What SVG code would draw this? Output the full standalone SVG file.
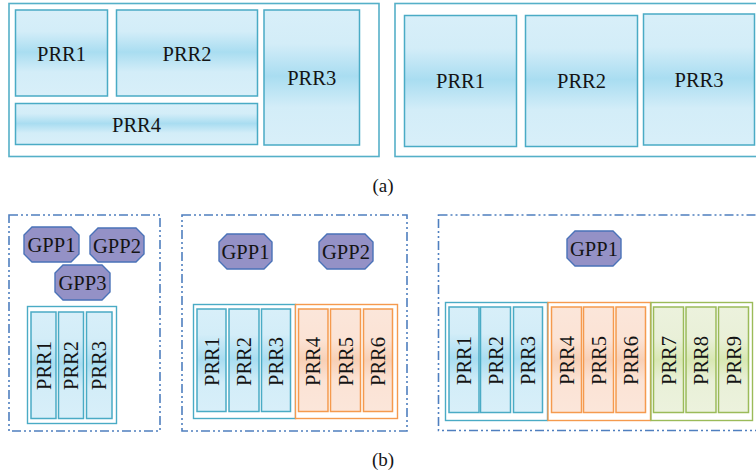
<svg xmlns="http://www.w3.org/2000/svg" width="756" height="475" viewBox="0 0 756 475">
<style>
text{font-family:"Liberation Serif","Times New Roman",serif;fill:#141414;font-size:20.5px;text-anchor:middle}
.cap{font-size:19px}
.outer{fill:#fff;stroke:#55b0c8;stroke-width:1.6}
.b{fill:url(#gb);stroke:#4aabc5;stroke-width:1.5}
.o{fill:url(#go);stroke:#f59a4e;stroke-width:1.5}
.g{fill:url(#gg);stroke:#9bbb59;stroke-width:1.5}
.bg{fill:#fff;stroke:#4aabc5;stroke-width:1.4}
.og{fill:#fff;stroke:#f59a4e;stroke-width:1.4}
.gg{fill:#fff;stroke:#9bbb59;stroke-width:1.4}
.panel{fill:none;stroke:#4f7fbf;stroke-width:1.6;stroke-dasharray:9 3 2 3 2 3}
.gpp{fill:#9491c6;stroke:#4a72b8;stroke-width:1.4}
</style>
<defs>
<linearGradient id="gb" x1="0" y1="0" x2="0" y2="1">
<stop offset="0" stop-color="#d8eff9"/><stop offset="0.25" stop-color="#d3edf8"/><stop offset="0.49" stop-color="#a9ddf1"/><stop offset="0.72" stop-color="#d3edf8"/><stop offset="1" stop-color="#d8eff9"/>
</linearGradient>
<linearGradient id="go" x1="0" y1="0" x2="0" y2="1">
<stop offset="0" stop-color="#fbe6da"/><stop offset="0.3" stop-color="#fbe3d5"/><stop offset="0.5" stop-color="#f8d0b6"/><stop offset="0.7" stop-color="#fbe3d5"/><stop offset="1" stop-color="#fbe6da"/>
</linearGradient>
<linearGradient id="gg" x1="0" y1="0" x2="0" y2="1">
<stop offset="0" stop-color="#ecf2dd"/><stop offset="0.3" stop-color="#e9f0d8"/><stop offset="0.5" stop-color="#d9e8b3"/><stop offset="0.7" stop-color="#e9f0d8"/><stop offset="1" stop-color="#ecf2dd"/>
</linearGradient>
</defs>

<!-- (a) left -->
<g id="a-left">
<rect class="outer" x="9" y="3.5" width="370" height="153"/>
<g id="a1-prr1"><rect class="b" x="15.5" y="10" width="92" height="86"/><text x="61.5" y="60.5">PRR1</text></g>
<g id="a1-prr2"><rect class="b" x="116.5" y="10" width="141" height="86"/><text x="187" y="60.5">PRR2</text></g>
<g id="a1-prr3"><rect class="b" x="264" y="10" width="95.5" height="135"/><text x="311.7" y="85">PRR3</text></g>
<g id="a1-prr4"><rect class="b" x="15.5" y="103.5" width="242" height="41"/><text x="136.5" y="131.5">PRR4</text></g>
</g>

<!-- (a) right -->
<g id="a-right">
<rect class="outer" x="395" y="3.5" width="370" height="153"/>
<g id="a2-prr1"><rect class="b" x="404.5" y="15.5" width="112" height="131"/><text x="460.5" y="88">PRR1</text></g>
<g id="a2-prr2"><rect class="b" x="525.5" y="15.5" width="112" height="131"/><text x="581.5" y="88">PRR2</text></g>
<g id="a2-prr3"><rect class="b" x="643.5" y="14" width="111" height="131"/><text x="699" y="87">PRR3</text></g>
</g>

<text class="cap" x="383" y="191.5">(a)</text>

<!-- (b) panel 1 -->
<g id="b-panel1">
<rect class="panel" x="9" y="215" width="151" height="216"/>
<g id="b1-gpp1"><polygon class="gpp" points="32,227 71,227 79,235 79,254 71,262 32,262 24,254 24,235"/><text x="51.5" y="252">GPP1</text></g>
<g id="b1-gpp2"><polygon class="gpp" points="98,228 136,228 144,236 144,254 136,262 98,262 90,254 90,236"/><text x="117" y="252.5">GPP2</text></g>
<g id="b1-gpp3"><polygon class="gpp" points="63,265 102,265 110,273 110,292 102,300 63,300 55,292 55,273"/><text x="82.5" y="290">GPP3</text></g>
<rect class="bg" x="27.5" y="306.5" width="89" height="117"/>
<g id="b1-prr1"><rect class="b" x="31" y="312" width="25" height="106.5"/><text transform="translate(43.5,365.5) rotate(-90)" y="7">PRR1</text></g>
<g id="b1-prr2"><rect class="b" x="58.5" y="312" width="25" height="106.5"/><text transform="translate(71,365.5) rotate(-90)" y="7">PRR2</text></g>
<g id="b1-prr3"><rect class="b" x="86.5" y="312" width="25.5" height="106.5"/><text transform="translate(99.2,365.5) rotate(-90)" y="7">PRR3</text></g>
</g>

<!-- (b) panel 2 -->
<g id="b-panel2">
<rect class="panel" x="182" y="215" width="225" height="216"/>
<g id="b2-gpp1"><polygon class="gpp" points="227,234 264,234 272,242 272,261 264,269 227,269 219,261 219,242"/><text x="245.5" y="259">GPP1</text></g>
<g id="b2-gpp2"><polygon class="gpp" points="327,234 365,234 373,242 373,261 365,269 327,269 319,261 319,242"/><text x="346" y="259">GPP2</text></g>
<rect class="bg" x="193.5" y="304.5" width="102" height="114"/>
<rect class="og" x="295.5" y="304.5" width="102" height="114"/>
<g id="b2-prr1"><rect class="b" x="197" y="309" width="29" height="102.5"/><text transform="translate(211.5,361.5) rotate(-90)" y="7">PRR1</text></g>
<g id="b2-prr2"><rect class="b" x="229" y="309" width="30" height="102.5"/><text transform="translate(244,361.5) rotate(-90)" y="7">PRR2</text></g>
<g id="b2-prr3"><rect class="b" x="261.5" y="309" width="29" height="102.5"/><text transform="translate(276,361.5) rotate(-90)" y="7">PRR3</text></g>
<g id="b2-prr4"><rect class="o" x="298.5" y="309" width="29.5" height="102.5"/><text transform="translate(313.2,361.5) rotate(-90)" y="7">PRR4</text></g>
<g id="b2-prr5"><rect class="o" x="330.5" y="309" width="30" height="102.5"/><text transform="translate(345.5,361.5) rotate(-90)" y="7">PRR5</text></g>
<g id="b2-prr6"><rect class="o" x="363.5" y="309" width="29" height="102.5"/><text transform="translate(378,361.5) rotate(-90)" y="7">PRR6</text></g>
</g>

<!-- (b) panel 3 -->
<g id="b-panel3">
<rect class="panel" x="438.5" y="215" width="330" height="215.5"/>
<g id="b3-gpp1"><polygon class="gpp" points="575,231 613,231 621,239 621,258 613,266 575,266 567,258 567,239"/><text x="594" y="256">GPP1</text></g>
<rect class="bg" x="445.5" y="302.5" width="102" height="118"/>
<rect class="og" x="548" y="302.5" width="102.5" height="118"/>
<rect class="gg" x="651" y="302.5" width="101.5" height="118"/>
<g id="b3-prr1"><rect class="b" x="449" y="307" width="30" height="105.5"/><text transform="translate(464,360.5) rotate(-90)" y="7">PRR1</text></g>
<g id="b3-prr2"><rect class="b" x="480.5" y="307" width="30" height="105.5"/><text transform="translate(495.5,360.5) rotate(-90)" y="7">PRR2</text></g>
<g id="b3-prr3"><rect class="b" x="513.5" y="307" width="29" height="105.5"/><text transform="translate(528,360.5) rotate(-90)" y="7">PRR3</text></g>
<g id="b3-prr4"><rect class="o" x="551.5" y="307" width="30" height="105.5"/><text transform="translate(566.5,360.5) rotate(-90)" y="7">PRR4</text></g>
<g id="b3-prr5"><rect class="o" x="583.5" y="307" width="30" height="105.5"/><text transform="translate(598.5,360.5) rotate(-90)" y="7">PRR5</text></g>
<g id="b3-prr6"><rect class="o" x="616" y="307" width="29.5" height="105.5"/><text transform="translate(630.7,360.5) rotate(-90)" y="7">PRR6</text></g>
<g id="b3-prr7"><rect class="g" x="653.5" y="307" width="30" height="105.5"/><text transform="translate(668.5,360.5) rotate(-90)" y="7">PRR7</text></g>
<g id="b3-prr8"><rect class="g" x="686" y="307" width="30" height="105.5"/><text transform="translate(701,360.5) rotate(-90)" y="7">PRR8</text></g>
<g id="b3-prr9"><rect class="g" x="718.5" y="307" width="30" height="105.5"/><text transform="translate(733.5,360.5) rotate(-90)" y="7">PRR9</text></g>
</g>

<text class="cap" x="383" y="465.5">(b)</text>

<g id="connectors"/>
</svg>
